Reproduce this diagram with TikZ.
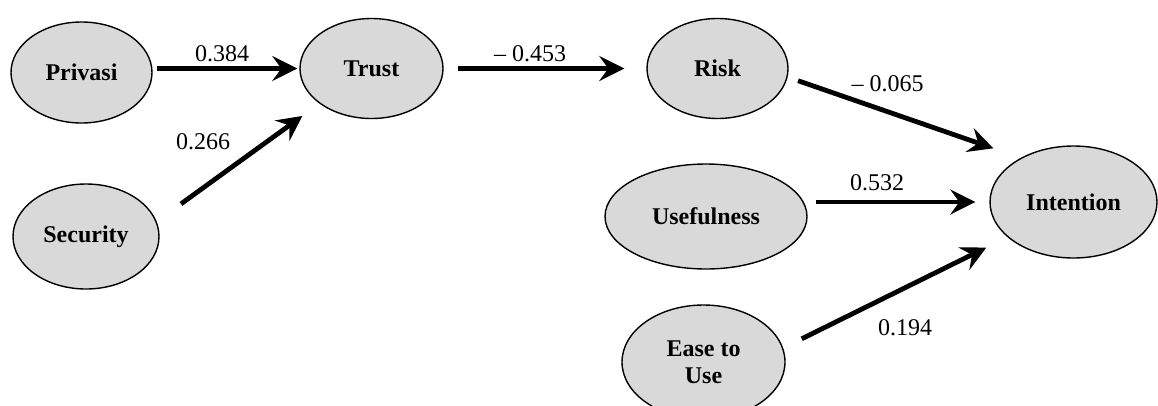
\documentclass[tikz,border=0pt]{standalone}
\usepackage{fontspec}
\setmainfont{Liberation Serif}
\usetikzlibrary{arrows.meta,shapes.geometric}
\definecolor{nodefill}{RGB}{217,217,217}
\tikzset{
  construct/.style={ellipse, draw=black, line width=1.4pt, fill=nodefill, inner sep=0pt,
    font=\fontsize{24}{27}\selectfont\bfseries, align=center},
  arr/.style={line width=4.8pt, -{Stealth[length=25pt,width=25pt,inset=9pt]}},
  coef/.style={font=\fontsize{24}{27}\selectfont, inner sep=0pt}
}
\begin{document}
\begin{tikzpicture}[x=1pt,y=-1pt]
\useasboundingbox (0,0) rectangle (1158,405);
\clip (0,0) rectangle (1158,405);
\node[construct, minimum width=141pt, minimum height=101pt] (privasi) at (81.5,72.5) {Privasi};
\node[construct, minimum width=143pt, minimum height=100pt] (trust) at (371.5,68.5) {Trust};
\node[construct, minimum width=146pt, minimum height=105pt] (security) at (86,236.5) {Security};
\node[construct, minimum width=141pt, minimum height=100pt] (risk) at (717.5,68.5) {Risk};
\node[construct, minimum width=202pt, minimum height=105pt] (usefulness) at (706,216.5) {Usefulness};
\node[construct, minimum width=167pt, minimum height=112pt] (intention) at (1073.5,202) {Intention};
\node[construct, minimum width=163pt, minimum height=114pt] (ease) at (703.5,362) {Ease to\\Use};

\draw[arr, shorten <=4pt, shorten >=2pt] (trust.west -| privasi.east) -- (trust.west);
\draw[arr, shorten <=30pt, shorten >=21pt] (security.12.7) -- (trust.214.1);
\draw[arr, shorten <=14pt, shorten >=22pt] (trust.east) -- (risk.west);
\draw[arr, shorten <=11pt, shorten >=29pt] (risk.-7.7) -- (intention.140.5);
\draw[arr, shorten <=8pt, shorten >=14pt] (usefulness.east |- intention.west) -- (intention.west);
\draw[arr, shorten <=20.6pt, shorten >=23.5pt] (ease.10) -- (intention.208.9);

\node[coef] (l1) at (222,54) {0.384};
\node[coef] (l2) at (203,142) {0.266};
\node[coef] (l3) at (530,54) {– 0.453};
\node[coef] (l4) at (887.5,84) {– 0.065};
\node[coef] (l5) at (877,183) {0.532};
\node[coef] (l6) at (905,328) {0.194};
\end{tikzpicture}
\end{document}
